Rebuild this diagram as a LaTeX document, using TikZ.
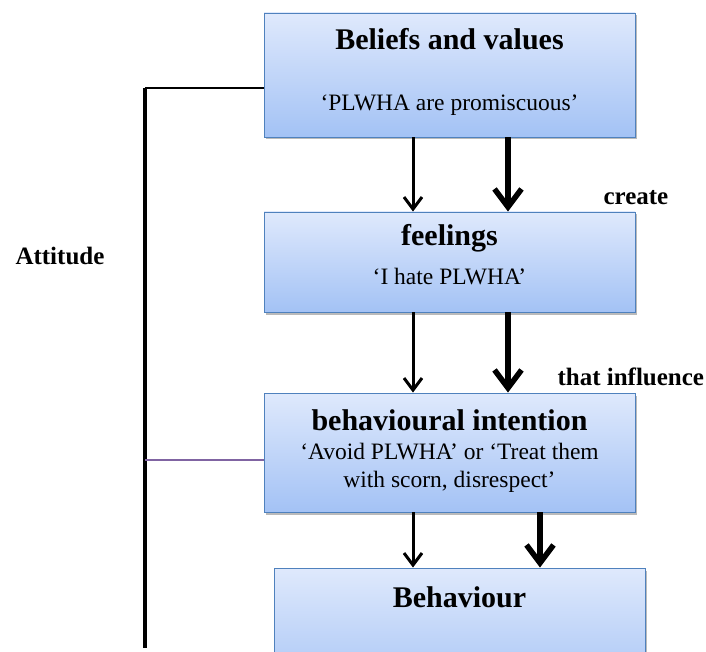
\documentclass[tikz,border=0pt]{standalone}
\usepackage{fontspec}
\setmainfont{Liberation Serif}
\definecolor{boxtop}{HTML}{DFE9FC}
\definecolor{boxbot}{HTML}{A3C2F5}
\definecolor{boxline}{HTML}{4F81BD}
\definecolor{tiepurple}{HTML}{8064A2}
\usetikzlibrary{arrows.meta,shadows}
\tikzset{
  lvl/.style={draw=boxline,line width=0.9pt,top color=boxtop,bottom color=boxbot,minimum width=371pt,inner sep=0pt,
    drop shadow={shadow xshift=2pt,shadow yshift=-2.5pt,fill=black!45,opacity=.6}},
  ttl/.style={anchor=base,font=\fontsize{30}{36}\selectfont\bfseries},
  sub/.style={anchor=base,font=\fontsize{23.5}{28}\selectfont,align=center},
  lab/.style={anchor=base west,font=\fontsize{25}{30}\selectfont\bfseries},
  narr/.style={-{Straight Barb[length=12pt,width=18pt]},line width=3pt},
  warr/.style={-{Straight Barb[length=18pt,width=27pt]},line width=5.5pt,
    preaction={draw=black!35,transform canvas={xshift=1.2pt,yshift=-1.2pt}}},
  spine/.style={line width=4pt},
  tie/.style={line width=1.3pt},
}
\begin{document}
\begin{tikzpicture}[x=1pt,y=-1pt]
\useasboundingbox (0,0) rectangle (706,652);
\clip (0,0) rectangle (706,652);
% the four levels
\node[lvl,minimum height=124pt] (beliefs) at (449.5,75) {};
\node[lvl,minimum height=100pt] (feelings) at (449.5,262) {};
\node[lvl,minimum height=119pt] (intention) at (449.5,452.5) {};
\node[lvl,minimum height=132pt] (behaviour) at (459.5,634) {};
\node[ttl] (beliefsT) at (449.5,50) {Beliefs and values};
\node[sub] (beliefsS) at (449.5,111) {‘PLWHA are promiscuous’};
\node[ttl] (feelingsT) at (449.5,245) {feelings};
\node[sub] (feelingsS) at (449.5,284) {‘I hate PLWHA’};
\node[ttl] (intentionT) at (449.5,430) {behavioural intention};
\node[sub] (intentionS) at (449.5,487) {‘Avoid PLWHA’ or ‘Treat them\\with scorn, disrespect’};
\node[ttl] (behaviourT) at (459.5,607) {Behaviour};
% side labels
\node[lab] (attitude) at (12,265) {Attitude};
\node[lab] (create) at (600,205) {create};
\node[lab] (influence) at (554,385) {that influence};
% attitude bracket
\coordinate (atop) at (145,88);
\coordinate (amid) at (145,460);
\coordinate (abot) at (145,648);
\draw[spine] (atop) -- (abot);
\draw[tie] (atop) -- (atop -| beliefs.west);
\draw[tie,draw=tiepurple] (amid) -- (amid -| intention.west);
% arrows
\draw[narr] ([xshift=-36.5pt]beliefs.south) -- ([xshift=-36.5pt]feelings.north);
\draw[warr] ([xshift=58.5pt]beliefs.south) -- ([xshift=58.5pt]feelings.north);
\draw[narr] ([xshift=-36.5pt]feelings.south) -- ([xshift=-36.5pt]intention.north);
\draw[warr] ([xshift=58.5pt]feelings.south) -- ([xshift=58.5pt]intention.north);
\draw[narr] ([xshift=-36.5pt]intention.south) -- ([xshift=-36.5pt]intention.south |- behaviour.north);
\draw[warr] ([xshift=90.5pt]intention.south) -- ([xshift=90.5pt]intention.south |- behaviour.north);
\end{tikzpicture}
\end{document}
